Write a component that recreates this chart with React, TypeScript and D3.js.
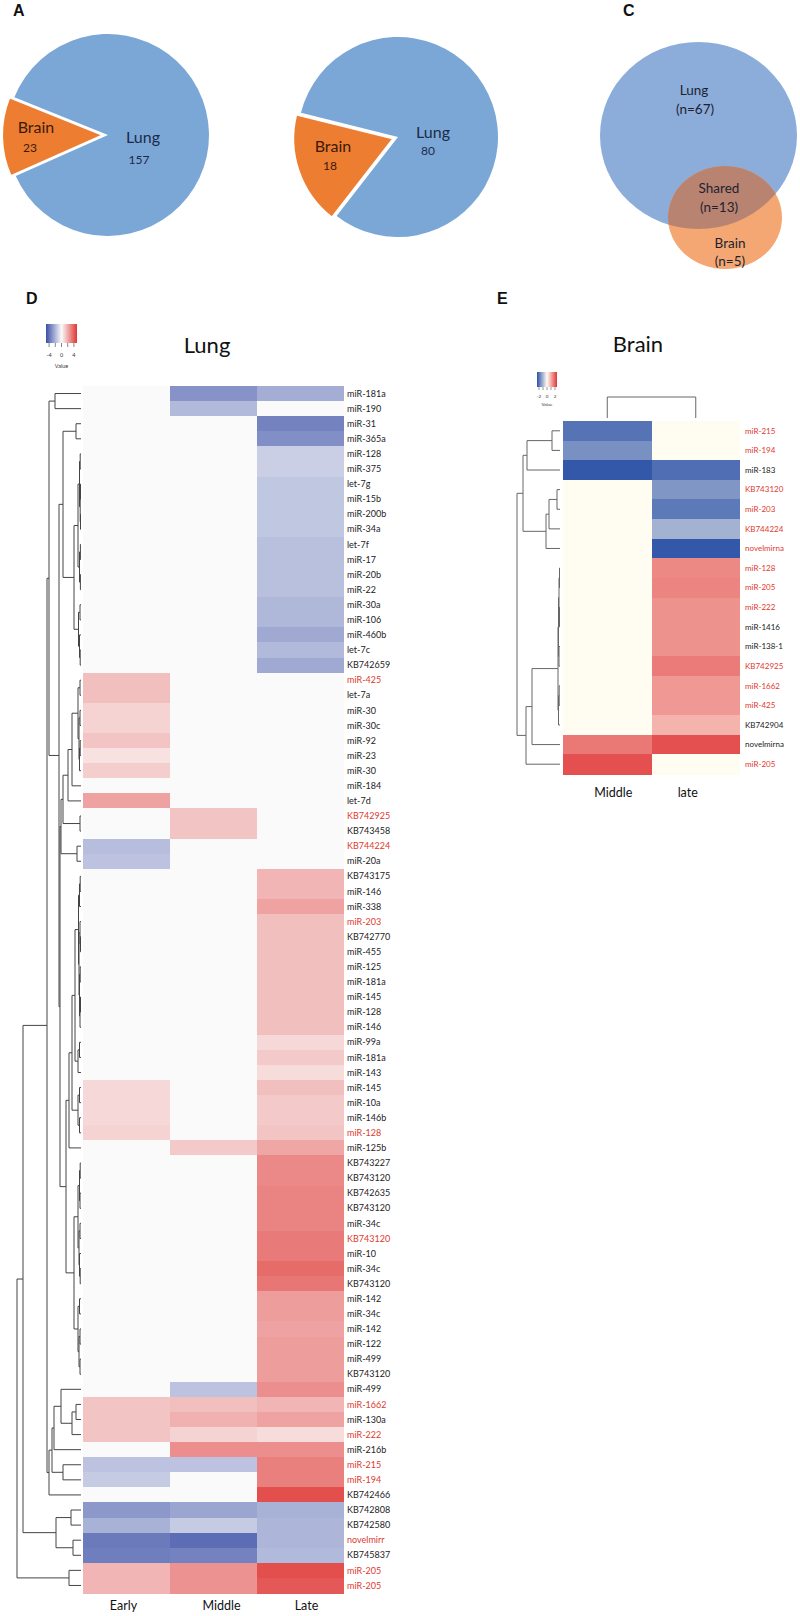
import React from 'react';
import * as d3 from 'd3';

// ---------- Panel A / B : pies ----------
const pieCategories = ['Lung', 'Brain'];
const pie1Values = [157, 23];
const pie2Values = [80, 18];

// ---------- Panel C : Venn ----------
const vennNames = ['Lung', 'Shared', 'Brain'];
const vennCounts = [67, 13, 5];

// ---------- Panel D : Lung heatmap ----------
const lungStages = ['Early', 'Middle', 'Late'];
const lungGenes = [
  'miR-181a', 'miR-190', 'miR-31', 'miR-365a', 'miR-128', 'miR-375', 'let-7g', 'miR-15b', 'miR-200b', 'miR-34a',
  'let-7f', 'miR-17', 'miR-20b', 'miR-22', 'miR-30a', 'miR-106', 'miR-460b', 'let-7c', 'KB742659', 'miR-425',
  'let-7a', 'miR-30', 'miR-30c', 'miR-92', 'miR-23', 'miR-30', 'miR-184', 'let-7d', 'KB742925', 'KB743458',
  'KB744224', 'miR-20a', 'KB743175', 'miR-146', 'miR-338', 'miR-203', 'KB742770', 'miR-455', 'miR-125', 'miR-181a',
  'miR-145', 'miR-128', 'miR-146', 'miR-99a', 'miR-181a', 'miR-143', 'miR-145', 'miR-10a', 'miR-146b', 'miR-128',
  'miR-125b', 'KB743227', 'KB743120', 'KB742635', 'KB743120', 'miR-34c', 'KB743120', 'miR-10', 'miR-34c', 'KB743120',
  'miR-142', 'miR-34c', 'miR-142', 'miR-122', 'miR-499', 'KB743120', 'miR-499', 'miR-1662', 'miR-130a', 'miR-222',
  'miR-216b', 'miR-215', 'miR-194', 'KB742466', 'KB742808', 'KB742580', 'novelmirr', 'KB745837', 'miR-205', 'miR-205',
];
const lungShared = [19, 28, 30, 35, 49, 56, 67, 69, 71, 72, 76, 78, 79];
const lungEarly = [
  0, 0, 0, 0, 0, 0, 0, 0, 0, 0,
  0, 0, 0, 0, 0, 0, 0, 0, 0, 1.2,
  1.2, 0.8, 0.8, 1.1, 0.5, 0.9, 0, 1.8, 0, 0,
  -1.4, -1.3, 0, 0, 0, 0, 0, 0, 0, 0,
  0, 0, 0, 0, 0, 0, 0.7, 0.7, 0.7, 0.8,
  0, 0, 0, 0, 0, 0, 0, 0, 0, 0,
  0, 0, 0, 0, 0, 0, 0, 1.1, 1.1, 1.1,
  0, -1.3, -1.1, 0, -2.3, -1.7, -3.0, -2.9, 1.4, 1.4,
];
const lungMiddle = [
  -2.4, -1.5, 0, 0, 0, 0, 0, 0, 0, 0,
  0, 0, 0, 0, 0, 0, 0, 0, 0, 0,
  0, 0, 0, 0, 0, 0, 0, 0, 1.1, 1.1,
  0, 0, 0, 0, 0, 0, 0, 0, 0, 0,
  0, 0, 0, 0, 0, 0, 0, 0, 0, 0,
  1.0, 0, 0, 0, 0, 0, 0, 0, 0, 0,
  0, 0, 0, 0, 0, 0, -1.3, 1.2, 1.5, 0.8,
  2.2, -1.3, 0, 0, -2.0, -1.1, -3.3, -2.8, 2.1, 2.1,
];
const lungLate = [
  -1.8, 0, -2.8, -2.5, -1.0, -1.0, -1.2, -1.2, -1.2, -1.2,
  -1.35, -1.35, -1.35, -1.35, -1.55, -1.55, -1.9, -1.5, -1.9, 0,
  0, 0, 0, 0, 0, 0, 0, 0, 0, 0,
  0, 0, 1.4, 1.4, 1.8, 1.2, 1.2, 1.2, 1.2, 1.2,
  1.2, 1.2, 1.2, 0.7, 1.0, 0.6, 1.2, 1.0, 1.0, 1.1,
  1.7, 2.3, 2.3, 2.4, 2.4, 2.4, 2.6, 2.6, 2.9, 2.7,
  1.9, 1.9, 1.8, 1.9, 1.9, 1.9, 2.2, 1.4, 1.8, 0.6,
  2.2, 2.5, 2.5, 3.5, -1.7, -1.6, -1.6, -1.5, 3.5, 3.3,
];
const lungLegendTicks = [-4, -2, 0, 2, 4];
const lungLegendLabels = [-4, 0, 4];

type TNode = number | [number, TNode, TNode];
// row dendrogram, [mergeHeight, left, right], leaves = row index
const lungTree: TNode = [64,
  [58,
    [34,
      [32,
        [26, 0, 1],
        [22,
          [18, [5, 2, 3],
            [7,
              [3, [1.5, [0.8, 4, 5], [0.8, [0.5, 6, 7], [0.5, 8, 9]]], [1.5, [0.6, 10, 11], [0.6, 12, 13]]],
              [2.5, [1, 14, 15], [1.5, 16, [0.8, 17, 18]]]]],
          [21,
            [20,
              [18,
                [13,
                  [9, [3, [1, 19, 20], [2, [1, 21, 22], [1.5, [0.8, 23, 24], 25]]], 26],
                  27],
                [1, 28, 29]],
              [4, 30, 31]],
            [15,
              [12,
                [9,
                  [6,
                    [2.5, [1.5, [0.8, 32, 33], 34], [2, [1, 35, [0.5, 36, 37]], [1.5, [0.8, 38, 39], [1, [0.5, 40, 41], 42]]]],
                    [3, [1.5, 43, 44], 45]],
                  [3, [1.5, 46, 47], [1.5, 48, 49]]],
                50],
              [7,
                [3, [1.5, [0.8, 51, 52], [1, 53, 54]], [2, [1, 55, 56], [1.5, 57, [0.8, 58, 59]]]],
                [3, [1.5, 60, 61], [2, [1, 62, 63], [1, 64, 65]]]]]]]],
      [32,
        [29,
          [27,
            [20, 66, [9, [5, 67, 68], 69]],
            70],
          [18, 71, 72]],
        73]],
    [25, [10, 74, 75], [8, 76, 77]]],
  [12, 78, 79]];

// ---------- Panel E : Brain heatmap ----------
const brainStages = ['Middle', 'late'];
const brainGenes = [
  'miR-215', 'miR-194', 'miR-183', 'KB743120', 'miR-203', 'KB744224', 'novelmirna', 'miR-128', 'miR-205',
  'miR-222', 'miR-1416', 'miR-138-1', 'KB742925', 'miR-1662', 'miR-425', 'KB742904', 'novelmirna', 'miR-205',
];
const brainShared = [0, 1, 3, 4, 5, 6, 7, 8, 9, 12, 13, 14, 17];
const brainMiddle = [-2.4, -1.9, -2.9, 0, 0, 0, 0, 0, 0, 0, 0, 0, 0, 0, 0, 0, 2.0, 2.6];
const brainLate = [0, 0, -2.5, -1.8, -2.3, -1.3, -2.9, 1.75, 1.8, 1.6, 1.6, 1.6, 1.95, 1.5, 1.5, 1.1, 2.6, 0];
const brainTree: TNode = [43,
  [37,
    [33, [8, 0, 1], 2],
    [14, [11, [3, 3, 4], 5], 6]],
  [34,
    [28,
      [2, [1.5, [1, [0.5, 7, 8], [0.5, 9, 10]], [1, 11, 12]], [1.5, [0.8, 13, 14], 15]],
      16],
    17]];
const brainColTree: TNode = [1, 0, 1];
const brainLegendTicks = [-2, -1, 0, 1, 2];
const brainLegendLabels = [-2, 0, 2];

// ---------- helpers ----------
function dendroSegments(
  tree: TNode,
  leafPos: (i: number) => number,
  hPos: (h: number) => number,
  vertical = false,
): string[] {
  const segs: string[] = [];
  const walk = (n: TNode): { h: number; p: number } => {
    if (typeof n === 'number') return { h: hPos(0), p: leafPos(n) };
    const [ht, a, b] = n;
    const A = walk(a);
    const B = walk(b);
    const h = hPos(ht);
    if (!vertical) segs.push(`M${A.h},${A.p}H${h}V${B.p}H${B.h}`);
    else segs.push(`M${A.p},${A.h}V${h}H${B.p}V${B.h}`);
    return { h, p: (A.p + B.p) / 2 };
  };
  walk(tree);
  return segs;
}

const LUNG_BLUE = '#7ba7d7';
const BRAIN_ORANGE = '#ed7d31';

function Pie({ values, cx, cy, r, start, labels }: {
  values: number[]; cx: number; cy: number; r: number; start: number;
  labels: { name: [number, number]; num: [number, number] }[];
}) {
  const a0 = (start * Math.PI) / 180;
  const arcs = d3.pie<number>().sort(null).startAngle(a0).endAngle(a0 + 2 * Math.PI)(values);
  const arc = d3.arc<d3.PieArcDatum<number>>().innerRadius(0).outerRadius(r);
  const colors = [LUNG_BLUE, BRAIN_ORANGE];
  const textColors = ['#1c2b4a', '#3b1a08'];
  return (
    <g>
      {arcs.map((d, i) => {
        const mid = (d.startAngle + d.endAngle) / 2;
        const off = i === 1 ? 5 : 0;
        const dx = Math.sin(mid) * off;
        const dy = -Math.cos(mid) * off;
        return (
          <path key={i} d={arc(d) || ''} transform={`translate(${cx + dx},${cy + dy})`}
            fill={colors[i]} stroke="#fff" strokeWidth={i === 1 ? 2 : 0} />
        );
      })}
      {pieCategories.map((c, i) => (
        <g key={c} fill={textColors[i]}>
          <text x={labels[i].name[0]} y={labels[i].name[1]} textAnchor="middle" fontSize={16}>{c}</text>
          <text x={labels[i].num[0]} y={labels[i].num[1]} textAnchor="middle" fontSize={12}>{values[i]}</text>
        </g>
      ))}
    </g>
  );
}

export default function App() {
  // ---------- Lung ----------
  const lx = d3.scaleBand<string>().domain(lungStages).range([83, 344]);
  const ly = d3.scaleBand<number>().domain(d3.range(lungGenes.length)).range([386, 1593]);
  const lColor = d3.scaleLinear<string>().domain([-4, 0, 4]).range(['#3a4fa6', '#fafafa', '#df3634']).clamp(true);
  const lungCols = [lungEarly, lungMiddle, lungLate];
  const lTreeX = d3.scaleLinear().domain([0, 64]).range([81, 17]);
  const lungSegs = dendroSegments(lungTree, (i) => (ly(i) as number) + ly.bandwidth() / 2, (h) => lTreeX(h));
  const lLeg = d3.scaleLinear().domain([-5, 5]).range([46, 77]);
  const lungLabelOffset = [-3, 8, 6];

  // ---------- Brain ----------
  const bx = d3.scaleBand<string>().domain(brainStages).range([563, 740]);
  const by = d3.scaleBand<number>().domain(d3.range(brainGenes.length)).range([421, 774]);
  const bColor = d3.scaleLinear<string>().domain([-3, 0, 3]).range(['#2c52a6', '#fffcf2', '#e03636']).clamp(true);
  const brainCols = [brainMiddle, brainLate];
  const bTreeX = d3.scaleLinear().domain([0, 43]).range([560, 517]);
  const brainSegs = dendroSegments(brainTree, (i) => (by(i) as number) + by.bandwidth() / 2, (h) => bTreeX(h));
  const bColY = d3.scaleLinear().domain([0, 1]).range([418, 397]);
  const brainColSegs = dendroSegments(brainColTree, (i) => (bx(brainStages[i]) as number) + bx.bandwidth() / 2, (h) => bColY(h), true);
  const bLeg = d3.scaleLinear().domain([-2.5, 2.5]).range([537, 557]);
  const brainLabelOffset = [6, -8];

  const RED = '#e0392d';

  return (
    <svg width={800} height={1616} style={{ position: 'absolute', left: 0, top: 0, background: '#fff' }}
      fontFamily="Lato, 'Open Sans', sans-serif">
      <defs>
        <linearGradient id="lungGrad" x1="0" x2="1" y1="0" y2="0">
          {d3.range(-4, 4.01, 1).map((v) => (
            <stop key={v} offset={(v + 4) / 8} stopColor={lColor(v)} />
          ))}
        </linearGradient>
        <linearGradient id="brainGrad" x1="0" x2="1" y1="0" y2="0">
          {d3.range(-3, 3.01, 1).map((v) => (
            <stop key={v} offset={(v + 3) / 6} stopColor={bColor(v)} />
          ))}
        </linearGradient>
        <clipPath id="lungVennClip">
          <ellipse cx={698.5} cy={135.5} rx={98.5} ry={93.5} />
        </clipPath>
      </defs>

      {/* panel letters */}
      <g fontFamily="'Liberation Sans', Arial, sans-serif" fontWeight="bold" fontSize={16} fill="#111">
        <text x={13} y={16}>A</text>
        <text x={623} y={16}>C</text>
        <text x={26} y={304}>D</text>
        <text x={497} y={304}>E</text>
      </g>

      {/* Pies */}
      <Pie values={pie1Values} cx={108} cy={135} r={101} start={-68}
        labels={[{ name: [143, 143], num: [139, 164] }, { name: [36, 133], num: [30, 152] }]} />
      <Pie values={pie2Values} cx={398} cy={137} r={100} start={-76}
        labels={[{ name: [433, 138], num: [428, 155] }, { name: [333, 152], num: [330, 170] }]} />

      {/* Venn */}
      <g>
        <ellipse cx={698.5} cy={135.5} rx={98.5} ry={93.5} fill="#8cadda" />
        <ellipse cx={725} cy={217.5} rx={57} ry={51.5} fill="#f4a772" />
        <ellipse cx={725} cy={217.5} rx={57} ry={51.5} fill="#b88471" clipPath="url(#lungVennClip)" />
        <g fontSize={13.5} fill="#1e2230" textAnchor="middle">
          <text x={694} y={95}>{vennNames[0]}</text>
          <text x={695} y={114}>{`(n=${vennCounts[0]})`}</text>
          <text x={719} y={193}>{vennNames[1]}</text>
          <text x={719} y={212}>{`(n=${vennCounts[1]})`}</text>
          <text x={730} y={248}>{vennNames[2]}</text>
          <text x={730} y={266}>{`(n=${vennCounts[2]})`}</text>
        </g>
      </g>

      {/* Lung heatmap */}
      <text x={207} y={353} fontSize={22} textAnchor="middle" fill="#111">Lung</text>
      <rect x={46} y={324} width={31} height={19} fill="url(#lungGrad)" />
      {lungLegendTicks.map((t) => (
        <line key={t} x1={lLeg(t)} x2={lLeg(t)} y1={343} y2={347} stroke="#333" strokeWidth={0.6} />
      ))}
      {lungLegendLabels.map((t) => (
        <text key={t} x={lLeg(t)} y={357} fontSize={5.5} textAnchor="middle" fill="#333">{t}</text>
      ))}
      <text x={61.5} y={368} fontSize={5.5} textAnchor="middle" fill="#333">Value</text>

      <g shapeRendering="crispEdges">
        {lungCols.map((col, ci) =>
          col.map((v, ri) => (
            <rect key={`${ci}-${ri}`} x={lx(lungStages[ci])} y={ly(ri)} width={lx.bandwidth()}
              height={ly.bandwidth() + 0.5} fill={lColor(v)} />
          )),
        )}
      </g>
      <g fill="none" stroke="#444" strokeWidth={1}>
        {lungSegs.map((d, i) => <path key={i} d={d} />)}
      </g>
      <g fontSize={9}>
        {lungGenes.map((g, i) => (
          <text key={i} x={347} y={(ly(i) as number) + ly.bandwidth() / 2} dy="0.35em"
            fill={lungShared.includes(i) ? RED : '#222'}>{g}</text>
        ))}
      </g>
      <g fontSize={12.5} fill="#111" textAnchor="middle">
        {lungStages.map((s, i) => (
          <text key={s} x={(lx(s) as number) + lx.bandwidth() / 2 + lungLabelOffset[i]} y={1610}>{s}</text>
        ))}
      </g>

      {/* Brain heatmap */}
      <text x={638} y={352} fontSize={22} textAnchor="middle" fill="#111">Brain</text>
      <rect x={537} y={372} width={20} height={15} fill="url(#brainGrad)" />
      {brainLegendTicks.map((t) => (
        <line key={t} x1={bLeg(t)} x2={bLeg(t)} y1={387} y2={390} stroke="#333" strokeWidth={0.5} />
      ))}
      {brainLegendLabels.map((t) => (
        <text key={t} x={bLeg(t)} y={398} fontSize={4.5} textAnchor="middle" fill="#333">{t}</text>
      ))}
      <text x={547} y={406} fontSize={4.5} textAnchor="middle" fill="#333">Value</text>

      <g shapeRendering="crispEdges">
        {brainCols.map((col, ci) =>
          col.map((v, ri) => (
            <rect key={`${ci}-${ri}`} x={bx(brainStages[ci])} y={by(ri)} width={bx.bandwidth()}
              height={by.bandwidth() + 0.5} fill={bColor(v)} />
          )),
        )}
      </g>
      <g fill="none" stroke="#666" strokeWidth={1}>
        {brainSegs.map((d, i) => <path key={i} d={d} />)}
        {brainColSegs.map((d, i) => <path key={`c${i}`} d={d} />)}
      </g>
      <g fontSize={8}>
        {brainGenes.map((g, i) => (
          <text key={i} x={745} y={(by(i) as number) + by.bandwidth() / 2} dy="0.35em"
            fill={brainShared.includes(i) ? RED : '#222'}>{g}</text>
        ))}
      </g>
      <g fontSize={12.5} fill="#111" textAnchor="middle">
        {brainStages.map((s, i) => (
          <text key={s} x={(bx(s) as number) + bx.bandwidth() / 2 + brainLabelOffset[i]} y={797}>{s}</text>
        ))}
      </g>
    </svg>
  );
}
